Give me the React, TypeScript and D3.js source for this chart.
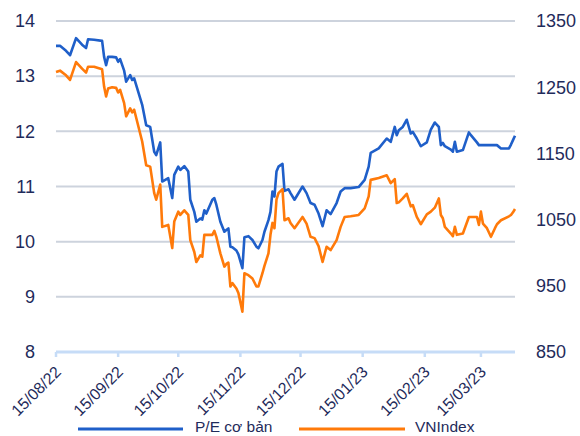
import React from 'react';
import { scaleLinear, scaleTime, line, timeParse } from 'd3';

const dates = [
    '2022-08-15', '2022-08-17', '2022-08-20', '2022-08-22', '2022-08-25', '2022-08-28', '2022-08-30', '2022-08-31',
    '2022-09-03', '2022-09-07', '2022-09-08', '2022-09-09', '2022-09-10', '2022-09-12', '2022-09-14', '2022-09-15',
    '2022-09-16', '2022-09-18', '2022-09-19', '2022-09-21', '2022-09-22', '2022-09-23', '2022-09-27', '2022-09-29',
    '2022-10-01', '2022-10-03', '2022-10-04', '2022-10-06', '2022-10-07', '2022-10-10', '2022-10-12', '2022-10-13',
    '2022-10-15', '2022-10-16', '2022-10-18', '2022-10-20', '2022-10-21', '2022-10-23', '2022-10-24', '2022-10-26',
    '2022-10-27', '2022-10-28', '2022-10-29', '2022-11-01', '2022-11-02', '2022-11-03', '2022-11-05', '2022-11-07',
    '2022-11-08', '2022-11-09', '2022-11-10', '2022-11-11', '2022-11-13', '2022-11-14', '2022-11-16', '2022-11-17',
    '2022-11-19', '2022-11-21', '2022-11-23', '2022-11-24', '2022-11-26', '2022-11-27', '2022-11-29', '2022-11-30',
    '2022-12-01', '2022-12-02', '2022-12-03', '2022-12-04', '2022-12-06', '2022-12-07', '2022-12-09', '2022-12-10',
    '2022-12-12', '2022-12-16', '2022-12-18', '2022-12-20', '2022-12-22', '2022-12-24', '2022-12-26', '2022-12-28',
    '2022-12-30', '2023-01-02', '2023-01-04', '2023-01-06', '2023-01-09', '2023-01-13', '2023-01-16', '2023-01-18',
    '2023-01-19', '2023-01-23', '2023-01-27', '2023-01-29', '2023-01-31', '2023-02-01', '2023-02-02', '2023-02-04',
    '2023-02-06', '2023-02-08', '2023-02-09', '2023-02-11', '2023-02-13', '2023-02-16', '2023-02-18', '2023-02-20',
    '2023-02-22', '2023-02-23', '2023-02-24', '2023-02-25', '2023-02-28', '2023-03-01', '2023-03-02', '2023-03-03',
    '2023-03-06', '2023-03-09', '2023-03-10', '2023-03-13', '2023-03-14', '2023-03-15', '2023-03-16', '2023-03-18',
    '2023-03-20', '2023-03-22', '2023-03-23', '2023-03-25', '2023-03-29', '2023-03-30', '2023-03-31', '2023-04-01'
];

const peValues = [
    13.55, 13.55, 13.46, 13.38, 13.69, 13.57, 13.51, 13.67,
    13.66, 13.64, 13.35, 13.20, 13.35, 13.35, 13.34, 13.26,
    13.31, 13.10, 12.90, 13.02, 12.93, 12.96, 12.48, 12.11,
    12.08, 11.63, 11.57, 11.80, 11.09, 11.15, 10.79, 11.21,
    11.36, 11.30, 11.37, 11.27, 10.76, 10.54, 10.36, 10.42,
    10.40, 10.57, 10.51, 10.76, 10.79, 10.67, 10.36, 10.18,
    10.21, 10.24, 9.91, 9.90, 9.84, 9.77, 9.52, 10.08,
    10.10, 10.03, 9.91, 9.88, 10.03, 10.18, 10.39, 10.54,
    10.91, 10.82, 11.27, 11.36, 11.41, 10.92, 10.95, 10.88,
    10.76, 11.00, 10.88, 10.70, 10.67, 10.51, 10.28, 10.57,
    10.50, 10.70, 10.91, 10.97, 10.97, 10.99, 11.12, 11.36,
    11.61, 11.69, 11.87, 11.81, 12.08, 11.93, 12.02, 12.08,
    12.21, 11.96, 11.99, 11.87, 11.73, 11.80, 12.03, 12.16,
    12.08, 11.75, 11.79, 11.73, 11.67, 11.63, 11.81, 11.63,
    11.66, 11.98, 11.93, 11.80, 11.75, 11.75, 11.75, 11.75,
    11.75, 11.75, 11.75, 11.69, 11.69, 11.76, 11.84, 11.92
];

const vnValues = [
    1273, 1275, 1268, 1261, 1288, 1278, 1272, 1281,
    1281, 1277, 1251, 1236, 1248, 1250, 1249, 1242,
    1246, 1226, 1206, 1218, 1212, 1216, 1168, 1132,
    1130, 1090, 1080, 1103, 1039, 1042, 1007, 1047,
    1062, 1057, 1064, 1057, 1019, 1001, 986, 996,
    994, 1027, 1027, 1027, 1033, 1024, 999, 979,
    983, 985, 949, 954, 946, 939, 911, 969,
    966, 961, 949, 949, 969, 980, 999, 1027,
    1045, 1037, 1080, 1090, 1096, 1049, 1052, 1045,
    1037, 1054, 1044, 1024, 1022, 1010, 986, 1009,
    1004, 1019, 1039, 1054, 1055, 1057, 1067, 1085,
    1110, 1113, 1117, 1105, 1111, 1075, 1076, 1082,
    1089, 1070, 1072, 1054, 1043, 1058, 1062, 1068,
    1082, 1057, 1052, 1039, 1029, 1025, 1039, 1027,
    1029, 1054, 1054, 1054, 1042, 1062, 1044, 1037,
    1024, 1037, 1043, 1049, 1055, 1057, 1061, 1066
];

const tickDates = ['2022-08-15', '2022-09-15', '2022-10-15', '2022-11-15', '2022-12-15', '2023-01-15', '2023-02-15', '2023-03-15'];
const tickLabels = ['15/08/22', '15/09/22', '15/10/22', '15/11/22', '15/12/22', '15/01/23', '15/02/23', '15/03/23'];
const leftTicks = [8, 9, 10, 11, 12, 13, 14];
const rightTicks = [850, 950, 1050, 1150, 1250, 1350];
const seriesNames = ['P/E cơ bản', 'VNIndex'];

const App = () => {
    const svgWidth = 580;
    const svgHeight = 436;
    const margin = { top: 21, right: 65, bottom: 84, left: 56 };
    const textColor = '#1F2B5B';
    const blue = '#1F5FC9';
    const orange = '#FF7A0A';
    const font = '"Liberation Sans", Arial, sans-serif';

    const parse = timeParse('%Y-%m-%d');
    const x = scaleTime()
        .domain([parse('2022-08-15'), parse('2023-04-01')])
        .range([margin.left, svgWidth - margin.right]);
    const yLeft = scaleLinear().domain([8, 14]).range([svgHeight - margin.bottom, margin.top]);
    const yRight = scaleLinear().domain([850, 1350]).range([svgHeight - margin.bottom, margin.top]);

    const points = dates.map((d, i) => ({ date: parse(d), pe: peValues[i], vn: vnValues[i] }));
    const peLine = line<any>().x(d => x(d.date)).y(d => yLeft(d.pe));
    const vnLine = line<any>().x(d => x(d.date)).y(d => yRight(d.vn));

    const x0 = margin.left;
    const x1 = svgWidth - margin.right;
    const yBase = yLeft(8);

    return (
        <svg width={svgWidth} height={svgHeight} style={{ position: 'absolute', left: 0, top: 0, background: '#fff' }}>
            {leftTicks.filter(t => t > 8).map(t =>
                <line key={'g' + t} x1={x0} x2={x1} y1={yLeft(t)} y2={yLeft(t)} stroke='#CDD3DD' strokeWidth={2} />
            )}
            <line x1={x0} x2={x1} y1={yBase} y2={yBase} stroke='#C6DCF7' strokeWidth={3} />
            {tickDates.map(t =>
                <line key={'t' + t} x1={x(parse(t))} x2={x(parse(t))} y1={yBase} y2={yBase + 5} stroke='#C6DCF7' strokeWidth={2.5} />
            )}
            {leftTicks.map(t =>
                <text key={'l' + t} x={35} y={yLeft(t)} dy='0.35em' textAnchor='end' fontFamily={font} fontSize={18} fill={textColor}>{t}</text>
            )}
            {rightTicks.map(t =>
                <text key={'r' + t} x={536} y={yRight(t)} dy='0.35em' textAnchor='start' fontFamily={font} fontSize={18} fill={textColor}>{t}</text>
            )}
            {tickDates.map((t, i) => {
                const tx = x(parse(t)) + 6;
                const ty = yBase + 21;
                return <text key={'x' + t} transform={`translate(${tx},${ty}) rotate(-45)`} textAnchor='end'
                    fontFamily={font} fontSize={16} fill={textColor}>{tickLabels[i]}</text>;
            })}
            <path d={peLine(points)} fill='none' stroke={blue} strokeWidth={2.6} strokeLinejoin='round' />
            <path d={vnLine(points)} fill='none' stroke={orange} strokeWidth={2.6} strokeLinejoin='round' />

            <line x1={78} x2={183} y1={429} y2={429} stroke={blue} strokeWidth={3} />
            <text x={195} y={432} fontFamily={font} fontSize={15.5} fill={textColor}>{seriesNames[0]}</text>
            <line x1={299} x2={405} y1={429} y2={429} stroke={orange} strokeWidth={3} />
            <text x={415} y={432} fontFamily={font} fontSize={15.5} fill={textColor}>{seriesNames[1]}</text>
        </svg>
    );
}

export default App;
